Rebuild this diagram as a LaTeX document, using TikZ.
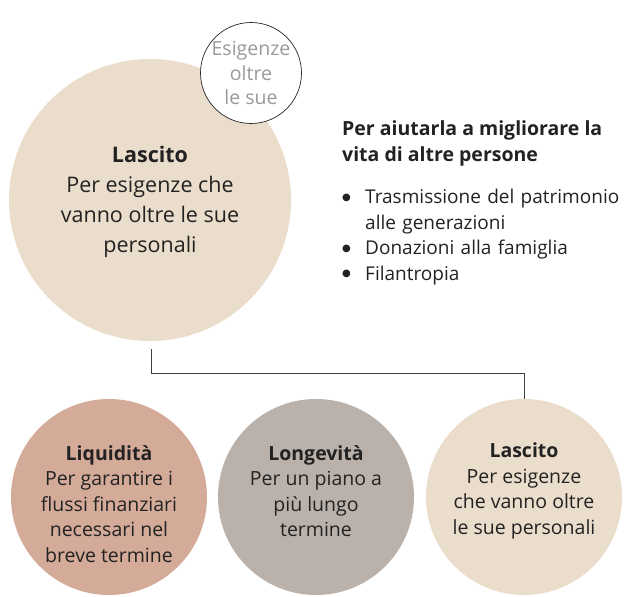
\documentclass[tikz,border=0pt]{standalone}
\usepackage{fontspec}
\setmainfont{Open Sans}
\newfontfamily\dejavu{DejaVu Sans}
\definecolor{beige}{HTML}{EBDDCB}
\definecolor{rose}{HTML}{D4AB99}
\definecolor{taupe}{HTML}{BAB1AB}
\definecolor{greytext}{HTML}{9A9A9A}
\definecolor{txt}{HTML}{222222}
\newcommand{\bul}{\makebox[23pt][l]{\raisebox{3.2pt}{\dejavu\fontsize{10}{10}\selectfont ●}}}
\tikzset{
  circ/.style={circle, draw=none, inner sep=0pt},
  ctext/.style={align=center, text=txt, font=\fontsize{19.5}{25.5}\selectfont},
  conn/.style={draw=black!75, line width=0.9pt},
}
\begin{document}
\begin{tikzpicture}[x=1pt,y=-1pt]
\useasboundingbox (0,0) rectangle (624,597);
% big circle
\node[circ, fill=beige, minimum size=282pt] (big) at (150,200) {};
\node[ctext, font=\fontsize{21.5}{30}\selectfont] (bigt) at (150,202) {\textbf{Lascito}\\Per esigenze che\\vanno oltre le sue\\personali};
% small circle
\node[circ, draw=black!85, line width=0.7pt, fill=white, minimum size=101pt] (small) at (251,73) {};
\node[align=center, text=greytext, font=\fontsize{19.5}{24.5}\selectfont] (smallt) at (251,73) {Esigenze\\oltre\\le sue};
% right text
\node[anchor=north west, align=left, text=txt, font=\fontsize{19.5}{26}\selectfont\bfseries, inner sep=0pt] (head) at (342,120) {Per aiutarla a migliorare la\\vita di altre persone};
\node[anchor=north west, align=left, text=txt, font=\fontsize{19}{25.5}\selectfont, inner sep=0pt, text width=282pt] (list) at (342,189) {%
  \hangindent=23pt\hangafter=1\bul Trasmissione del patrimonio alle generazioni\par
  \bul Donazioni alla famiglia\par
  \bul Filantropia};
% bottom circles
\node[circ, fill=rose, minimum size=196pt] (liq) at (109,497) {};
\node[circ, fill=taupe, minimum size=196pt] (lon) at (316,497) {};
\node[circ, fill=beige, minimum size=196pt] (las) at (524,497) {};
\node[ctext] (liqt) at (109,504) {\textbf{Liquidità}\\Per garantire i\\flussi finanziari\\necessari nel\\breve termine};
\node[ctext] (lont) at (316,491) {\textbf{Longevità}\\Per un piano a\\più lungo\\termine};
\node[ctext] (last) at (524,491) {\textbf{Lascito}\\Per esigenze\\che vanno oltre\\le sue personali};
% connector
\coordinate (c1) at (151,349);
\draw[conn] (c1) -- (151,373) -| (las.north);
\end{tikzpicture}
\end{document}
